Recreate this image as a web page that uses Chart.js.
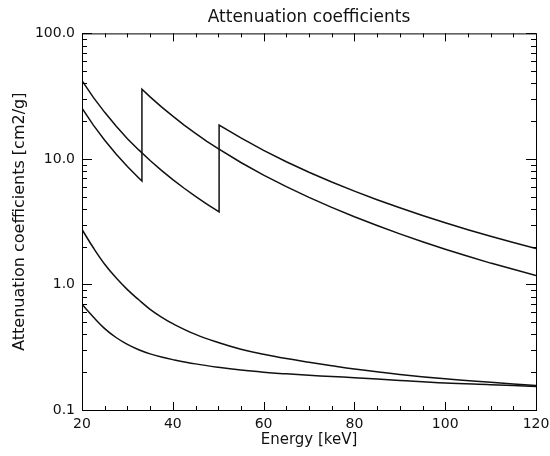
<!DOCTYPE html>
<html>
<head>
<meta charset="utf-8">
<script src="https://cdn.jsdelivr.net/npm/chart.js@4.4.1/dist/chart.umd.min.js"></script>
<style>
  body { margin: 0; background: #fff; }
</style>
</head>
<body>
<canvas id="myChart" width="550" height="456"></canvas>
<script>
// energies in keV, mass attenuation in cm2/g
var iodineEnergy = [20, 22.5, 25, 27.5, 30, 32.5, 33.2, 33.2, 35, 37.5, 40, 42.5, 45, 47.5, 50,
  55, 60, 65, 70, 75, 80, 85, 90, 95, 100, 105, 110, 115, 120];
var iodineMu = [25.4, 18.6, 14.1, 10.96, 8.71, 7.05, 6.66, 35.9, 31.2, 26.0, 21.9, 18.6, 16.0, 13.8, 12.1,
  9.37, 7.44, 6.01, 4.94, 4.11, 3.46, 2.95, 2.53, 2.19, 1.91, 1.68, 1.48, 1.32, 1.18];

var gadoEnergy = [20, 22.5, 25, 27.5, 30, 32.5, 35, 37.5, 40, 42.5, 45, 47.5, 50.2, 50.2,
  55, 60, 65, 70, 75, 80, 85, 90, 95, 100, 105, 110, 115, 120];
var gadoMu = [42.1, 30.9, 23.5, 18.3, 14.5, 11.8, 9.72, 8.11, 6.85, 5.84, 5.03, 4.37, 3.78, 18.6,
  14.7, 11.7, 9.50, 7.84, 6.55, 5.54, 4.73, 4.08, 3.54, 3.10, 2.73, 2.42, 2.16, 1.93];

var lowEnergy = [20, 22.5, 25, 27.5, 30, 32.5, 35, 37.5, 40, 45, 50, 55, 60, 65, 70, 75, 80, 90, 100, 110, 120];
var boneMu = [2.74, 1.96, 1.45, 1.13, 0.91, 0.755, 0.634, 0.55, 0.487, 0.40, 0.345, 0.305, 0.278,
  0.257, 0.240, 0.225, 0.212, 0.192, 0.177, 0.166, 0.157];
var tissueMu = [0.695, 0.55, 0.445, 0.378, 0.333, 0.302, 0.280, 0.264, 0.252, 0.233, 0.219, 0.208, 0.200,
  0.194, 0.189, 0.185, 0.181, 0.172, 0.164, 0.159, 0.154];

var yTicks = [0.1, 1, 10, 100];

function pairs(xs, ys) {
  return xs.map(function (x, i) { return {x: x, y: ys[i]}; });
}

function line(label, xs, ys, tension) {
  return {
    label: label,
    data: pairs(xs, ys),
    borderColor: "#111",
    borderWidth: 1.5,
    pointRadius: 0,
    tension: tension,
    fill: false
  };
}

// frame with inward ticks on all four sides
var frame = {
  id: "frame",
  afterDatasetsDraw: function (chart) {
    var ctx = chart.ctx, a = chart.chartArea;
    var xs = chart.scales.x, ys = chart.scales.y;
    ctx.save();
    ctx.strokeStyle = "#000";
    ctx.lineWidth = 1;
    ctx.strokeRect(a.left + 0.5, a.top + 0.5, a.right - a.left, a.bottom - a.top);
    ctx.beginPath();
    for (var e = 20; e <= 120; e += 5) {
      var px = Math.round(xs.getPixelForValue(e)) + 0.5;
      var len = (e % 20 === 0) ? 8 : 4;
      ctx.moveTo(px, a.bottom); ctx.lineTo(px, a.bottom - len);
      ctx.moveTo(px, a.top); ctx.lineTo(px, a.top + len);
    }
    for (var d = 0.1; d <= 100.0001; d *= 10) {
      for (var k = 1; k <= 9; k++) {
        var v = d * k;
        if (v > 100.0001) break;
        var py = Math.round(ys.getPixelForValue(v)) + 0.5;
        var l = (k === 1) ? 10 : 5;
        ctx.moveTo(a.left, py); ctx.lineTo(a.left + l, py);
        ctx.moveTo(a.right, py); ctx.lineTo(a.right - l, py);
      }
    }
    ctx.stroke();
    ctx.restore();
  }
};

var ctx = document.getElementById("myChart");
var myChart = new Chart(ctx, {
  type: "line",
  data: {
    datasets: [
      line("Gadolinium", gadoEnergy, gadoMu, 0),
      line("Iodine", iodineEnergy, iodineMu, 0),
      line("Bone", lowEnergy, boneMu, 0.4),
      line("Tissue", lowEnergy, tissueMu, 0.4)
    ]
  },
  options: {
    responsive: false,
    animation: false,
    layout: { padding: { left: 0, right: 0, top: 0, bottom: 0 } },
    plugins: {
      legend: { display: false },
      tooltip: { enabled: false },
      title: {
        display: true,
        fullSize: false,
        text: "Attenuation coefficients",
        color: "#111",
        font: { family: "DejaVu Sans", size: 17, weight: "normal" },
        padding: { top: 7, bottom: 6 }
      }
    },
    scales: {
      x: {
        type: "linear",
        min: 20,
        max: 120,
        grid: { display: false, drawTicks: false },
        border: { display: false },
        ticks: {
          stepSize: 20,
          padding: 6,
          color: "#111",
          maxRotation: 0,
          font: { family: "DejaVu Sans", size: 14 }
        },
        title: {
          display: true,
          text: "Energy [keV]",
          color: "#111",
          font: { family: "DejaVu Sans", size: 15 },
          padding: { top: 0, bottom: 7 }
        },
        afterFit: function (s) { s.height = 46; s.paddingRight = 14; }
      },
      y: {
        type: "logarithmic",
        min: 0.1,
        max: 100,
        grid: { display: false, drawTicks: false },
        border: { display: false },
        afterBuildTicks: function (s) {
          s.ticks = yTicks.map(function (v) { return {value: v}; });
        },
        ticks: {
          padding: 7,
          color: "#111",
          font: { family: "DejaVu Sans", size: 14 },
          callback: function (v) { return Number(v).toFixed(1); }
        },
        title: {
          display: true,
          text: "Attenuation coefficients [cm2/g]",
          color: "#111",
          font: { family: "DejaVu Sans", size: 16 },
          padding: { top: 10, bottom: 0 }
        },
        afterFit: function (s) { s.width = 82; }
      }
    }
  },
  plugins: [frame]
});
</script>
</body>
</html>
